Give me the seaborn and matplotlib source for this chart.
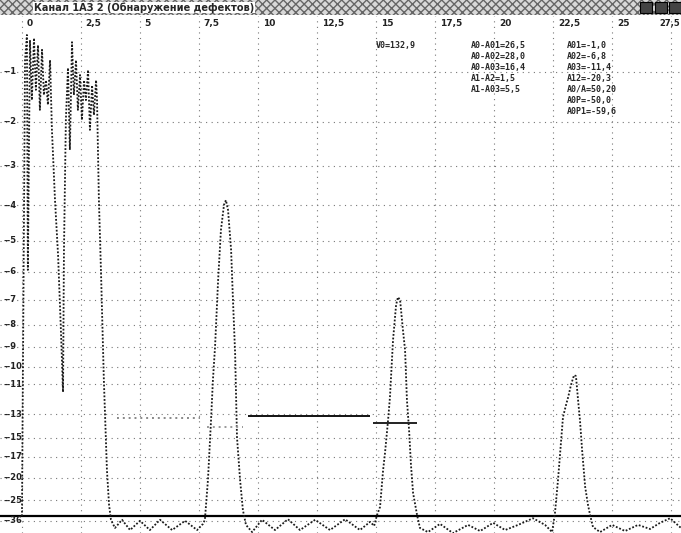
import matplotlib
matplotlib.use("Agg")
import numpy as np
import pandas as pd
import matplotlib.pyplot as plt
import seaborn as sns
from matplotlib.patches import Rectangle

# ---- data ----
# time axis (top scale), amplitude in % of full screen
trace_t = [0.00, 0.13, 0.21, 0.25, 0.34, 0.42, 0.51, 0.59, 0.68, 0.76, 0.85, 0.93,
           1.02, 1.10, 1.19, 1.27, 1.40, 1.53, 1.65, 1.74, 1.78, 1.86, 1.95, 2.03,
           2.12, 2.20, 2.29, 2.37, 2.46, 2.54, 2.63, 2.71, 2.80, 2.88, 2.97, 3.05,
           3.14, 3.18, 3.26, 3.35, 3.47, 3.60, 3.69, 3.77,
           3.94, 4.24, 4.58, 5.00, 5.42, 5.85, 6.36, 6.91, 7.42, 7.67,
           7.75, 7.88, 8.01, 8.09, 8.18, 8.31, 8.43, 8.56, 8.64, 8.73, 8.86, 8.94,
           9.03, 9.11, 9.24, 9.36, 9.49,
           9.75, 10.17, 10.72, 11.27, 11.78, 12.42, 13.05, 13.69, 14.32, 14.75, 14.92,
           15.04, 15.17, 15.30, 15.38, 15.51, 15.59, 15.72, 15.85, 15.93, 16.02, 16.14,
           16.23, 16.31, 16.40, 16.48, 16.57, 16.74, 16.86,
           17.20, 17.71, 18.26, 18.90, 19.41, 19.96, 20.47, 21.02, 21.65, 22.16, 22.46, 22.54,
           22.58, 22.71, 22.84, 22.92, 23.05, 23.14, 23.26, 23.39, 23.47, 23.56, 23.64,
           23.73, 23.86, 23.98, 24.07, 24.19,
           24.49, 25.00, 25.55, 26.10, 26.61, 27.03, 27.46, 27.92]
trace_amp = [2.5, 91.4, 96.3, 50.5, 95.3, 83.6, 95.7, 85.6, 94.3, 81.7, 93.4, 84.6,
             87.5, 82.7, 91.4, 77.8, 64.1, 53.4, 38.8, 26.7, 54.4, 79.7, 89.9, 73.9,
             94.9, 84.6, 91.4, 81.7, 88.5, 79.7, 87.5, 83.6, 89.5, 77.8, 86.5, 80.7,
             87.5, 83.6, 64.1, 49.9, 29.0, 11.5, 4.7, 1.8,
             0.2, 1.8, -0.2, 1.6, -0.2, 1.8, -0.2, 1.6, -0.2, 1.0,
             1.8, 9.6, 21.2, 29.0, 35.5, 48.5, 58.3, 63.2, 64.1, 62.2, 54.4, 44.6,
             34.3, 17.9, 9.6, 3.7, 0.8,
             -0.6, 1.8, -0.2, 1.9, -0.2, 1.8, -0.2, 1.9, -0.2, 1.4, 0.6,
             2.7, 4.3, 11.5, 14.8, 21.2, 25.7, 36.8, 43.7, 45.2, 44.6, 38.8,
             34.9, 25.1, 19.3, 12.5, 7.0, 2.7, 0.2,
             -0.6, 1.0, -0.8, 0.8, -0.4, 1.2, -0.2, 0.8, 2.1, 0.8, -0.6, 1.8,
             3.1, 9.6, 17.3, 21.8, 24.2, 25.7, 28.1, 30.0, 29.8, 25.1, 21.2,
             15.4, 8.2, 4.7, 2.7, 0.4,
             -0.6, 0.8, -0.4, 0.8, 0.0, 1.2, 2.1, 0.2]

# gate markers
gate_start = [4.03, 7.84, 9.58, 14.87]
gate_end = [7.54, 9.36, 14.75, 16.74]
gate_amp = [21.6, 19.9, 22.0, 20.7]
gate_color = ["#888888", "#999999", "#111111", "#222222"]
gate_style = [(0, (1, 2)), (0, (1, 2)), "-", "-"]

# axis labels
time_ticks = [0, 2.5, 5, 7.5, 10, 12.5, 15, 17.5, 20, 22.5, 25, 27.5]
time_labels = ["0", "2,5", "5", "7,5", "10", "12,5", "15", "17,5", "20", "22,5", "25", "27,5"]
db_ticks = [-1, -2, -3, -4, -5, -6, -7, -8, -9, -10, -11, -13, -15, -17, -20, -25, -36]
base_level = 2.5

title = "Канал 1АЗ 2 (Обнаружение дефектов)"
info_col1 = ["V0=132,9"]
info_col2 = ["A0-A01=26,5", "A0-A02=28,0", "A0-A03=16,4", "A1-A2=1,5", "A1-A03=5,5"]
info_col3 = ["A01=-1,0", "A02=-6,8", "A03=-11,4", "A12=-20,3", "A0/A=50,20",
             "A0P=-50,0", "A0P1=-59,6"]

sns.set_style("white")
plt.rcParams["font.family"] = ["DejaVu Sans"]

fig = plt.figure(figsize=(6.81, 5.33), dpi=100)
ax = fig.add_axes([0, 0, 1, 0.97])
ax.set_xlim(-0.93, 27.92)
ax.set_ylim(-0.78, 100)
ax.axis("off")

grid_kw = dict(color="#777777", lw=0.8, linestyle=(0, (1, 4)))
for t in time_ticks:
    ax.axvline(t, **grid_kw)
for db in db_ticks:
    lvl = 100 * 10 ** (db / 20)
    ax.axhline(lvl, **grid_kw)
    ax.text(-0.78, lvl, "-" + str(db), ha="left", va="center",
            fontsize=6, fontweight="bold", color="#222222")

for t, lab in zip(time_ticks, time_labels):
    if t > 27:
        # last label sits on the right window edge
        ax.text(27.9, 98.6, lab, ha="right", va="center", fontsize=6,
                fontweight="bold", color="#222222")
    else:
        ax.text(t + 0.2, 98.6, lab, ha="left", va="center", fontsize=6.5,
                fontweight="bold", color="#222222")

ax.axhline(base_level, color="black", lw=1.6)

df = pd.DataFrame({"t": trace_t, "amp": trace_amp})
sns.lineplot(data=df, x="t", y="amp", sort=False, estimator=None, ax=ax,
             color="#1a1a1a", lw=1.3, linestyle=(0, (1, 1)))

for s, e, a, c, ls in zip(gate_start, gate_end, gate_amp, gate_color, gate_style):
    ax.hlines(a, s, e, colors=c, linestyles=ls, lw=1.4)

# info block
ax.text(15.0, 94.3, info_col1[0], fontsize=6, fontweight="bold", va="center",
        family="DejaVu Sans Mono")
for i, s in enumerate(info_col2):
    ax.text(19.0, 94.3 - i * 2.15, s, fontsize=6, fontweight="bold", va="center",
            family="DejaVu Sans Mono")
for i, s in enumerate(info_col3):
    ax.text(23.1, 94.3 - i * 2.15, s, fontsize=6, fontweight="bold", va="center",
            family="DejaVu Sans Mono")

# window title bar
fig.patches.append(Rectangle((0, 0.972), 1, 0.028, transform=fig.transFigure,
                             facecolor="#d8d8d8", edgecolor="#666666", hatch="xxxx",
                             lw=0))
fig.text(0.05, 0.986, title, fontsize=7, fontweight="bold", va="center",
         bbox=dict(facecolor="white", edgecolor="none", pad=0.5))
for x0 in [0.94, 0.962, 0.982]:
    fig.patches.append(Rectangle((x0, 0.975), 0.018, 0.022, transform=fig.transFigure,
                                 facecolor="#444444", edgecolor="black", lw=0.8))

fig.savefig("out.png", dpi=100)
